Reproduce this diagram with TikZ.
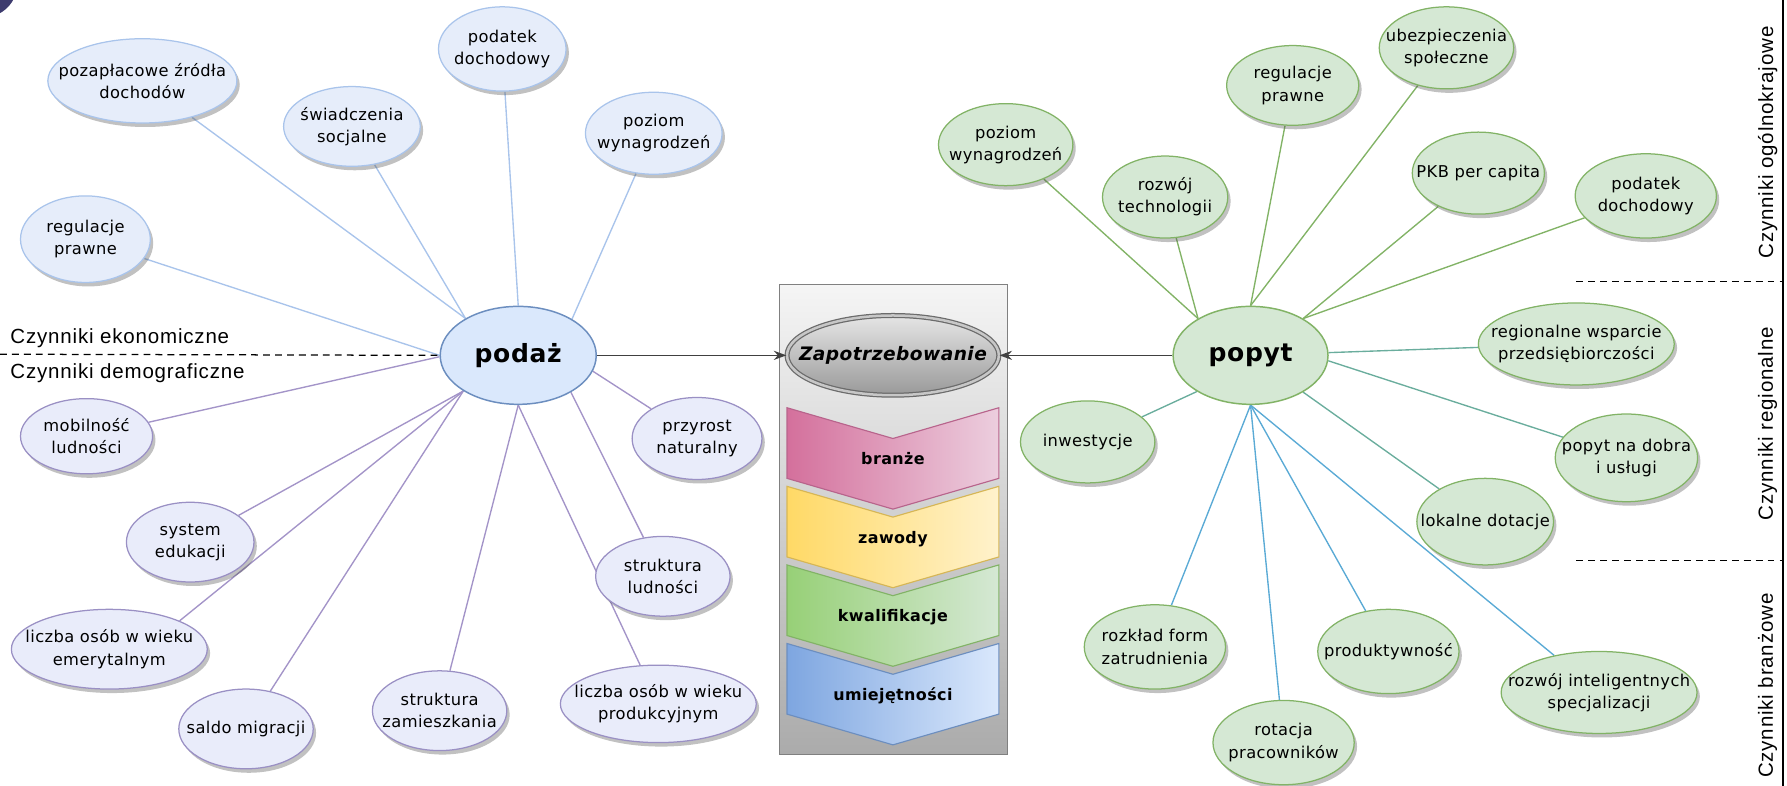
\documentclass[tikz,border=0pt]{standalone}
\usepackage{fontspec}
\setmainfont{DejaVu Sans}[LetterSpace=2.5]
\newfontfamily\labfont{Liberation Sans}[LetterSpace=4]
\usetikzlibrary{shapes.geometric,shadows,arrows.meta}
\pgfdeclarelayer{bg}
\pgfsetlayers{bg,main}
\definecolor{bfill}{HTML}{E6EDFA}
\definecolor{bdraw}{HTML}{A9C4EB}
\definecolor{bline}{HTML}{A9C4EB}
\definecolor{pfill}{HTML}{E9ECFA}
\definecolor{pdraw}{HTML}{9A90C4}
\definecolor{pline}{HTML}{A394C8}
\definecolor{gfill}{HTML}{D5E8D4}
\definecolor{gdraw}{HTML}{82B366}
\definecolor{gline}{HTML}{82B366}
\definecolor{tline}{HTML}{6AAD9D}
\definecolor{sline}{HTML}{5AAAD5}
\definecolor{hubblue}{HTML}{DAE8FC}
\definecolor{hubbluedraw}{HTML}{6C8EBF}
\definecolor{darkc}{HTML}{3D3B6E}
\definecolor{arrowc}{HTML}{404040}
\definecolor{c1l}{HTML}{D4709C}\definecolor{c1r}{HTML}{ECCEDE}\definecolor{c1d}{HTML}{B8648C}
\definecolor{c2l}{HTML}{FFD966}\definecolor{c2r}{HTML}{FFF2CC}\definecolor{c2d}{HTML}{D6B656}
\definecolor{c3l}{HTML}{97D077}\definecolor{c3r}{HTML}{D5E8D4}\definecolor{c3d}{HTML}{82B366}
\definecolor{c4l}{HTML}{7EA6E0}\definecolor{c4r}{HTML}{DAE8FC}\definecolor{c4d}{HTML}{6C8EBF}
\begin{document}
\begin{tikzpicture}[x=1pt,y=-1pt,
  sz/.style 2 args={minimum width=#1pt, minimum height=#2pt},
  sat/.style={ellipse, inner sep=-30pt, align=center, font=\fontsize{14.3}{19.5}\selectfont, line width=1.1pt,
    drop shadow={shadow xshift=2.5pt, shadow yshift=-3.5pt, opacity=0.35, fill=black!70}},
  bsat/.style={sat, draw=bdraw, fill=bfill},
  psat/.style={sat, draw=pdraw, fill=pfill},
  gsat/.style={sat, draw=gdraw, fill=gfill},
  hub/.style={ellipse, inner sep=-30pt, font=\fontsize{22}{26}\selectfont\bfseries, line width=1.3pt},
  conn/.style={line width=1.2pt},
  lab/.style={font=\labfont\fontsize{18}{20}\selectfont, inner sep=0pt},
  chev/.style={line width=1pt},
  chevtxt/.style={font=\fontsize{14}{16}\selectfont\bfseries},
  arr/.style={line width=1.4pt, draw=arrowc, -{Stealth[length=11pt,width=8pt]}},
  dsh/.style={line width=1.1pt, dash pattern=on 6pt off 4.5pt}
]
\useasboundingbox (0,0) rectangle (1569,690);
\fill[darkc] (-15,-15) circle (30.5pt);

% centre box
\node[draw=black!50, line width=1pt, rectangle, top color=black!4, bottom color=black!33, minimum width=200pt, minimum height=413pt, anchor=north west, inner sep=0pt] (box) at (684,249) {};
\node[ellipse, inner sep=-30pt, sz={186}{70}, draw=black!58, line width=1.1pt, double=black!22, double distance=2.2pt,
  top color=black!10, bottom color=black!40, font=\fontsize{16.3}{20}\selectfont\bfseries\itshape] (zap) at (784,312) {Zapotrzebowanie};

\path[chev, left color=c1l, right color=c1r, draw=c1d]
  (691,358) -- (784,385) -- (877,358) -- (877,420) -- (784,447) -- (691,420) -- cycle;
\path[chev, left color=c2l, right color=c2r, draw=c2d]
  (691,427) -- (784,454) -- (877,427) -- (877,489) -- (784,516) -- (691,489) -- cycle;
\path[chev, left color=c3l, right color=c3r, draw=c3d]
  (691,496) -- (784,523) -- (877,496) -- (877,558) -- (784,585) -- (691,558) -- cycle;
\path[chev, left color=c4l, right color=c4r, draw=c4d]
  (691,565) -- (784,592) -- (877,565) -- (877,627) -- (784,654) -- (691,627) -- cycle;
\node[chevtxt] (t1) at (784,403) {branże};
\node[chevtxt] (t2) at (784,473) {zawody};
\node[chevtxt] (t3) at (784,542) {kwalifikacje};
\node[chevtxt] (t4) at (784,611) {umiejętności};

% hubs
\node[hub, sz={137}{86}, draw=hubbluedraw, fill=hubblue] (podaz) at (455,312) {podaż};
\node[hub, sz={136}{86}, draw=gdraw, fill=gfill] (popyt) at (1098,312) {popyt};

% left satellites
\node[bsat, sz={166}{74}] (pozap) at (125,71) {pozapłacowe źródła\\dochodów};
\node[bsat, sz={120}{70}] (swiad) at (309,111) {świadczenia\\socjalne};
\node[bsat, sz={112}{74}] (podL) at (441,43) {podatek\\dochodowy};
\node[bsat, sz={120}{72}] (pozL) at (574,117) {poziom\\wynagrodzeń};
\node[bsat, sz={114}{76}] (regL) at (75,210) {regulacje\\prawne};

\node[psat, sz={116}{66}] (mobil) at (76,383) {mobilność\\ludności};
\node[psat, sz={112}{70}] (syst) at (167,476) {system\\edukacji};
\node[psat, sz={172}{70}] (emer) at (96,570) {liczba osób w wieku\\emerytalnym};
\node[psat, sz={118}{70}] (saldo) at (216,640) {saldo migracji};
\node[psat, sz={118}{70}] (strz) at (386,624) {struktura\\zamieszkania};
\node[psat, sz={172}{68}] (prod) at (578,618) {liczba osób w wieku\\produkcyjnym};
\node[psat, sz={118}{70}] (strl) at (582,506) {struktura\\ludności};
\node[psat, sz={114}{72}] (przy) at (612,385) {przyrost\\naturalny};

% right satellites
\node[gsat, sz={118}{72}] (pozR) at (883,127) {poziom\\wynagrodzeń};
\node[gsat, sz={110}{72}] (tech) at (1023,173) {rozwój\\technologii};
\node[gsat, sz={116}{70}] (regR) at (1135,75) {regulacje\\prawne};
\node[gsat, sz={118}{72}] (ubez) at (1270,42) {ubezpieczenia\\społeczne};
\node[gsat, sz={116}{72}] (pkb) at (1298,152) {PKB per capita};
\node[gsat, sz={124}{74}] (podR) at (1445,172) {podatek\\dochodowy};
\node[gsat, sz={172}{72}] (regw) at (1384,302) {regionalne wsparcie\\przedsiębiorczości};
\node[gsat, sz={125}{77}] (popn) at (1428,402) {popyt na dobra\\i usługi};
\node[gsat, sz={120}{76}] (lok) at (1304,458) {lokalne dotacje};
\node[gsat, sz={118}{72}] (inw) at (955,388) {inwestycje};
\node[gsat, sz={124}{74}] (rozk) at (1014,568) {rozkład form\\zatrudnienia};
\node[gsat, sz={124}{74}] (rot) at (1127,652) {rotacja\\pracowników};
\node[gsat, sz={124}{74}] (prdk) at (1219,572) {produktywność};
\node[gsat, sz={172}{72}] (rint) at (1404,608) {rozwój inteligentnych\\specjalizacji};

% connectors
\begin{pgfonlayer}{bg}
\draw[conn, bline] (podaz.145) -- (pozap);
\draw[conn, bline] (podaz.145) -- (swiad);
\draw[conn, bline] (podaz.90) -- (podL);
\draw[conn, bline] (podaz.34) -- (pozL);
\draw[conn, bline] (podaz.180) -- (regL);
\draw[conn, pline] (podaz.181) -- (mobil);
\draw[conn, pline] (podaz.213) -- (syst);
\draw[conn, pline] (podaz.213) -- (emer.22);
\draw[conn, pline] (podaz.213) -- (saldo);
\draw[conn, pline] (podaz.270) -- (strz);
\draw[conn, pline] (podaz.270) -- (prod);
\draw[conn, pline] (podaz.325) -- (strl);
\draw[conn, pline] (podaz.348) -- (przy);

\draw[conn, gline] (popyt.145) -- (pozR);
\draw[conn, gline] (popyt.145) -- (tech);
\draw[conn, gline] (popyt.90) -- (regR);
\draw[conn, gline] (popyt.90) -- (ubez);
\draw[conn, gline] (popyt.35) -- (pkb);
\draw[conn, gline] (popyt.35) -- (podR);
\draw[conn, tline] (popyt.2) -- (regw);
\draw[conn, tline] (popyt.-4) -- (popn);
\draw[conn, tline] (popyt.325) -- (lok);
\draw[conn, tline] (popyt.214) -- (inw);
\draw[conn, sline] (popyt.270) -- (rozk);
\draw[conn, sline] (popyt.270) -- (rot);
\draw[conn, sline] (popyt.270) -- (prdk);
\draw[conn, sline] (popyt.270) -- (rint);
\end{pgfonlayer}

\draw[arr] (podaz.east) -- (zap.west);
\draw[arr] (popyt.west) -- (zap.east);

% category labels and separators
\coordinate (dl) at (0,311);
\draw[dsh] (dl) -- (podaz.west);
\node[lab, anchor=base west] (lek) at (9,301.5) {Czynniki ekonomiczne};
\node[lab, anchor=base west] (ldem) at (9,332) {Czynniki demograficzne};

\coordinate (vt) at (1565.5,0);
\coordinate (vb) at (1565.5,690);
\draw[line width=1.2pt] (vt) -- (vb);
\coordinate (d1a) at (1384,247);
\coordinate (d1b) at (1565,247);
\coordinate (d2a) at (1384,492);
\coordinate (d2b) at (1565,492);
\draw[dsh] (d1a) -- (d1b);
\draw[dsh] (d2a) -- (d2b);
\node[lab, rotate=90] (vog) at (1552,125) {Czynniki ogólnokrajowe};
\node[lab, rotate=90] (vreg) at (1552,372) {Czynniki regionalne};
\node[lab, rotate=90] (vbr) at (1552,602) {Czynniki branżowe};
\end{tikzpicture}
\end{document}
